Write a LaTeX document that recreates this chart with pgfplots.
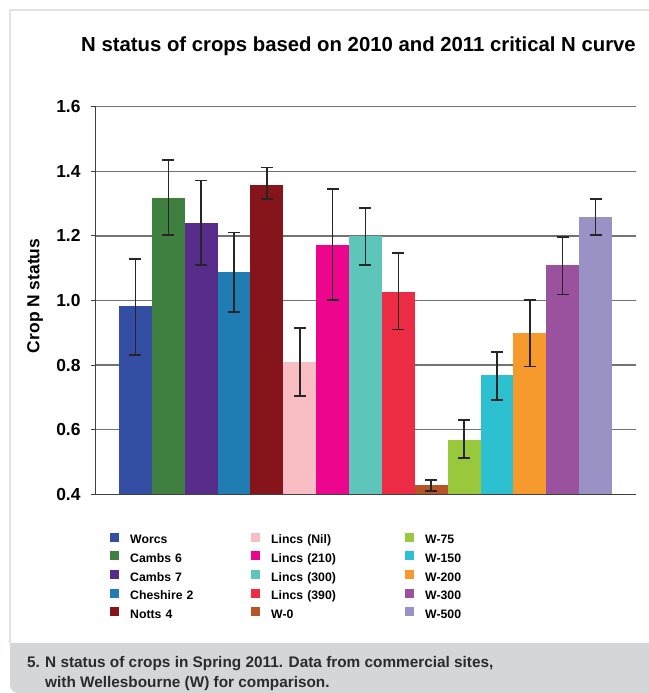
\documentclass[border=0pt]{standalone}
\usepackage{fontspec}
\setmainfont{Liberation Sans}
\usepackage{pgfplots}
\pgfplotsset{compat=1.18}
\definecolor{c1}{HTML}{334EA2}
\definecolor{c2}{HTML}{3F8040}
\definecolor{c3}{HTML}{582C8B}
\definecolor{c4}{HTML}{1F7DB4}
\definecolor{c5}{HTML}{85141B}
\definecolor{c6}{HTML}{F8BEC4}
\definecolor{c7}{HTML}{EC068D}
\definecolor{c8}{HTML}{5EC5BB}
\definecolor{c9}{HTML}{EC2B45}
\definecolor{c10}{HTML}{B55428}
\definecolor{c11}{HTML}{9AC83D}
\definecolor{c12}{HTML}{2DC0D0}
\definecolor{c13}{HTML}{F79A2E}
\definecolor{c14}{HTML}{9A529F}
\definecolor{c15}{HTML}{9A91C5}
\definecolor{capbg}{HTML}{D5D6D8}
\definecolor{frame}{HTML}{E2E2E2}
\definecolor{captext}{HTML}{2B2B2B}
\begin{document}
\begin{tikzpicture}
\useasboundingbox (0,0) rectangle (649bp,693bp);
\fill[white] (0,0) rectangle (649bp,693bp);
% frame
\draw[frame, line width=2bp] (10bp,50bp) -- (10bp,683bp) -- (660bp,683bp);
\fill[capbg] (10bp,50bp) -- (10bp,8bp) arc[start angle=180,end angle=270,radius=8bp] -- (660bp,0bp) -- (660bp,50bp) -- cycle;
% title
\node[anchor=base west, inner sep=0pt, font=\fontsize{20.4}{24}\selectfont\bfseries] at (81bp,641bp) {N status of crops based on 2010 and 2011 critical N curve};
% caption
\begin{scope}[every node/.style={anchor=base west, inner sep=0pt, text=captext, font=\fontsize{15.4}{19}\selectfont\bfseries}]
\node at (27bp,26bp) {5.};
\node at (45bp,26bp) {N status of crops in Spring 2011. Data from commercial sites,};
\node at (45bp,6bp) {with Wellesbourne (W) for comparison.};
\end{scope}
\begin{axis}[
  at={(95.7bp,198.7bp)}, anchor=south west,
  scale only axis, width=540.3bp, height=387.6bp,
  xmin=-1.208, xmax=15.23, ymin=0.4, ymax=1.6,
  ybar, bar width=1, bar shift=0pt,
  axis lines=left, axis line style={-, line width=1.2bp, color=black!75},
  xtick=\empty,
  ytick={0.4,0.6,...,1.6},
  ymajorgrids, grid style={line width=1.4bp, color=black!55},
  tick align=outside, major tick length=5bp,
  tick style={line width=1bp, color=black!75},
  /pgf/number format/assume math mode=true,
  yticklabel style={/pgf/number format/.cd, fixed, fixed zerofill, precision=1, /tikz/.cd, font=\fontsize{17.5}{20}\selectfont\bfseries, inner sep=0pt, xshift=-10bp},
  ylabel={Crop N status},
  ylabel style={at={(axis description cs:-0.1123,0.512)}, anchor=center, font=\fontsize{17.5}{20}\selectfont\bfseries},
  error bars/y dir=both, error bars/y explicit,
  error bars/error bar style={line width=1.5bp, color=black!85},
  error bars/error mark options={rotate=90, mark size=6bp, line width=1.5bp, color=black!85},
  legend columns=5, transpose legend,
  legend style={at={(axis description cs:0.0265,-0.099)}, anchor=north west, draw=none, fill=none, inner sep=0pt,
    font=\fontsize{12.3}{14}\selectfont\bfseries, row sep=4.6bp,
    nodes={text width=120bp, align=left, inner xsep=0pt, inner ysep=0pt, text height=9bp, text depth=3bp},
    /tikz/every odd column/.style={column sep=11bp},
    /tikz/column 2/.style={column sep=1bp},
    /tikz/column 4/.style={column sep=14bp}},
  legend image code/.code={\fill[#1] (0bp,-1bp) rectangle (9bp,8bp);},
]
\addplot[fill=c1, draw=none] coordinates {(0,0.983) += (0,0.145) -= (0,0.152)};
\addplot[fill=c2, draw=none] coordinates {(1,1.316) += (0,0.119) -= (0,0.113)};
\addplot[fill=c3, draw=none] coordinates {(2,1.239) += (0,0.132) -= (0,0.129)};
\addplot[fill=c4, draw=none] coordinates {(3,1.087) += (0,0.124) -= (0,0.122)};
\addplot[fill=c5, draw=none] coordinates {(4,1.357) += (0,0.054) -= (0,0.043)};
\addplot[fill=c6, draw=none] coordinates {(5,0.809) += (0,0.106) -= (0,0.105)};
\addplot[fill=c7, draw=none] coordinates {(6,1.172) += (0,0.173) -= (0,0.171)};
\addplot[fill=c8, draw=none] coordinates {(7,1.201) += (0,0.086) -= (0,0.091)};
\addplot[fill=c9, draw=none] coordinates {(8,1.026) += (0,0.121) -= (0,0.116)};
\addplot[fill=c10, draw=none] coordinates {(9,0.429) += (0,0.016) -= (0,0.019)};
\addplot[fill=c11, draw=none] coordinates {(10,0.568) += (0,0.062) -= (0,0.056)};
\addplot[fill=c12, draw=none] coordinates {(11,0.769) += (0,0.071) -= (0,0.077)};
\addplot[fill=c13, draw=none] coordinates {(12,0.899) += (0,0.102) -= (0,0.104)};
\addplot[fill=c14, draw=none] coordinates {(13,1.110) += (0,0.086) -= (0,0.092)};
\addplot[fill=c15, draw=none] coordinates {(14,1.259) += (0,0.055) -= (0,0.056)};
\legend{Worcs,Cambs 6,Cambs 7,Cheshire 2,Notts 4,Lincs (Nil),Lincs (210),Lincs (300),Lincs (390),W-0,W-75,W-150,W-200,W-300,W-500}
\end{axis}
\end{tikzpicture}
\end{document}
